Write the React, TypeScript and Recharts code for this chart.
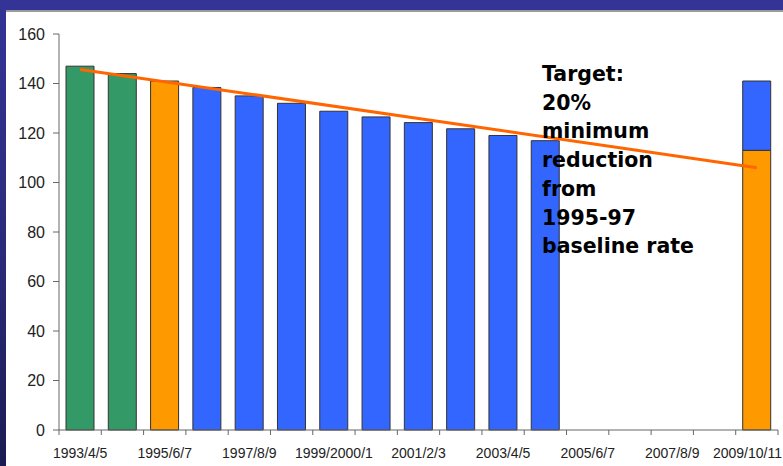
import { ComposedChart, Bar, Line, XAxis, YAxis, Cell } from "recharts"

// three-year rolling periods
const categories = [
  "1993/4/5", "1994/5/6", "1995/6/7", "1996/7/8", "1997/8/9", "1998/9/2000",
  "1999/2000/1", "2000/1/2", "2001/2/3", "2002/3/4", "2003/4/5", "2004/5/6",
  "2005/6/7", "2006/7/8", "2007/8/9", "2008/9/10", "2009/10/11",
]

// which part of the series each period belongs to
const periodKind = [
  "pre", "pre", "baseline", "post", "post", "post", "post", "post", "post",
  "post", "post", "post", "none", "none", "none", "none", "target",
]

const rates = [
  147, 144, 141, 138.4, 135, 132, 128.8, 126.5, 124.2, 121.7, 119, 116.9,
  null, null, null, null, 113,
]

// remaining gap up to the baseline level for the target period
const gapToBaseline = [
  null, null, null, null, null, null, null, null, null, null, null, null,
  null, null, null, null, 28,
]

// straight trend from first to last period
const trend = [
  145.7, null, null, null, null, null, null, null, null, null, null, null,
  null, null, null, null, 106,
]

const yTicks = [0, 20, 40, 60, 80, 100, 120, 140, 160]

const kindColor: Record<string, string> = {
  pre: "#339966",
  baseline: "#FF9900",
  post: "#3366FF",
  target: "#FF9900",
  none: "#3366FF",
}

const WIDTH = 783
const HEIGHT = 466
const MARGIN = { top: 34, right: 5, left: 0, bottom: 5 }
const Y_AXIS_WIDTH = 59
const BAND = (WIDTH - MARGIN.left - MARGIN.right - Y_AXIS_WIDTH) / categories.length
const FONT = "'Liberation Sans', Arial, sans-serif"

const data = categories.map((name, i) => ({
  name,
  kind: periodKind[i],
  rate: rates[i],
  gap: gapToBaseline[i],
  trend: trend[i],
}))

// tick marks sit between categories, labels on every other period
function PeriodTick(props: any) {
  const { x, y, payload, index } = props
  const half = BAND / 2
  const last = index === categories.length - 1
  return (
    <g>
      <line x1={x - half} x2={x - half} y1={y} y2={y + 5} stroke="#666" />
      {last && <line x1={x + half} x2={x + half} y1={y} y2={y + 5} stroke="#666" />}
      {index % 2 === 0 && (
        <text
          x={last ? WIDTH - 1 : x}
          y={y + 18}
          dy="0.71em"
          textAnchor={last ? "end" : "middle"}
          fill="#222"
          style={{ fontSize: 14, fontFamily: FONT }}
        >
          {payload.value}
        </text>
      )}
    </g>
  )
}

export default function App() {
  return (
    <div
      style={{
        position: "absolute",
        left: 0,
        top: 0,
        width: WIDTH,
        height: HEIGHT,
        overflow: "hidden",
        background: "linear-gradient(180deg, #343496 0%, #2a2a7a 55%, #1b1b52 100%)",
      }}
    >
      <div
        style={{
          position: "absolute",
          left: 6,
          top: 10,
          right: 0,
          bottom: 0,
          background: "#fff",
          borderTop: "2px solid #9a9a9a",
        }}
      />
      <div style={{ position: "absolute", left: 0, top: 0 }}>
        <ComposedChart width={WIDTH} height={HEIGHT} data={data} margin={MARGIN}>
          <XAxis
            dataKey="name"
            height={31}
            interval={0}
            tickSize={0}
            tickMargin={0}
            tickLine={false}
            axisLine={{ stroke: "#666" }}
            tick={<PeriodTick />}
          />
          <YAxis
            width={Y_AXIS_WIDTH}
            domain={[0, 160]}
            ticks={yTicks}
            tickSize={6}
            tickMargin={8}
            axisLine={{ stroke: "#666" }}
            tickLine={{ stroke: "#666" }}
            tick={{ fill: "#222", fontSize: 16, fontFamily: FONT }}
          />
          <Bar dataKey="rate" stackId="a" barSize={28} stroke="#333" strokeWidth={1} isAnimationActive={false}>
            {data.map((d) => (
              <Cell key={d.name} fill={kindColor[d.kind]} />
            ))}
          </Bar>
          <Bar dataKey="gap" stackId="a" barSize={28} fill="#3366FF" stroke="#333" strokeWidth={1} isAnimationActive={false} />
          <Line
            dataKey="trend"
            connectNulls
            stroke="#FF6600"
            strokeWidth={3}
            dot={false}
            activeDot={false}
            isAnimationActive={false}
          />
        </ComposedChart>
      </div>
      <div
        style={{
          position: "absolute",
          left: 542,
          top: 60,
          fontFamily: "'DejaVu Sans', Verdana, sans-serif",
          fontWeight: "bold",
          fontSize: 20.5,
          lineHeight: "28.7px",
          color: "#000",
        }}
      >
        Target:<br />
        20%<br />
        minimum<br />
        reduction<br />
        from<br />
        1995-97<br />
        baseline rate
      </div>
    </div>
  )
}
